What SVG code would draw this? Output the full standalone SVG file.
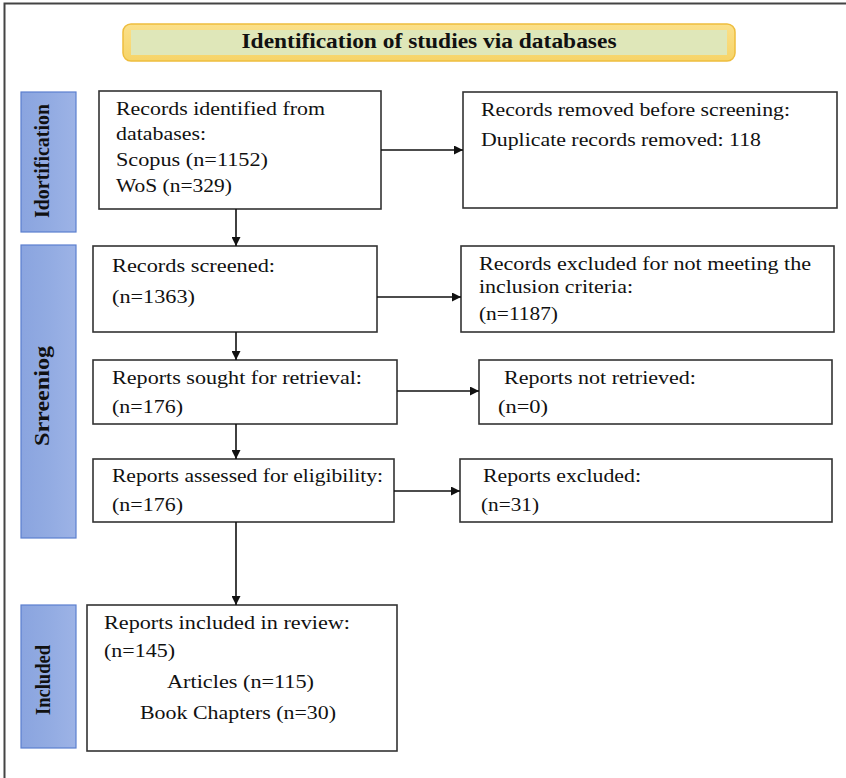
<svg xmlns="http://www.w3.org/2000/svg" width="846" height="778" viewBox="0 0 846 778">
<defs>
<linearGradient id="bar" x1="0" y1="0" x2="1" y2="0">
<stop offset="0" stop-color="#8aa4df"/>
<stop offset="0.5" stop-color="#92abe2"/>
<stop offset="1" stop-color="#9db3e6"/>
</linearGradient>
<linearGradient id="hdr" x1="0" y1="0" x2="0" y2="1">
<stop offset="0" stop-color="#fbe08a"/>
<stop offset="1" stop-color="#f6d468"/>
</linearGradient>
<marker id="arr" viewBox="0 0 10 10" refX="10" refY="5" markerWidth="9" markerHeight="9" markerUnits="userSpaceOnUse" orient="auto">
<path d="M0,0 L10,5 L0,10 z" fill="#111"/>
</marker>
</defs>
<style>
.box{fill:#fff;stroke:#333;stroke-width:1.6}
.side{fill:url(#bar);stroke:#5b7fcf;stroke-width:1.2}
.t{font-family:"Liberation Serif","Times New Roman",serif;font-size:19px;fill:#111}
.r{font-family:"Liberation Serif","Times New Roman",serif;font-size:18px;fill:#111}
.lab{font-family:"Liberation Serif","Times New Roman",serif;font-size:20px;font-weight:bold;fill:#111}
.conn line{stroke:#111;stroke-width:1.6;marker-end:url(#arr)}
</style>
<rect width="846" height="778" fill="#fff"/>
<path d="M4.5,778 V3.5 H846" fill="none" stroke="#444" stroke-width="2"/>

<g id="header">
<rect x="123" y="24" width="612" height="37" rx="8" fill="url(#hdr)" stroke="#eebd3e" stroke-width="1.5"/>
<rect x="131" y="30" width="596" height="25" fill="#dfe7b9"/>
<text x="429" y="48" text-anchor="middle" class="lab" font-size="19" textLength="375" lengthAdjust="spacingAndGlyphs">Identification of studies via databases</text>
</g>

<g id="side-identification">
<rect x="21" y="92" width="55" height="140" class="side"/>
<text transform="translate(49,161) rotate(-90)" text-anchor="middle" class="lab" textLength="114" lengthAdjust="spacingAndGlyphs">Idortification</text>
</g>
<g id="side-screening">
<rect x="21" y="245" width="55" height="293" class="side"/>
<text transform="translate(49,396) rotate(-90)" text-anchor="middle" class="lab" textLength="100" lengthAdjust="spacingAndGlyphs">Srreeniog</text>
</g>
<g id="side-included">
<rect x="21" y="605" width="55" height="143" class="side"/>
<text transform="translate(50,680) rotate(-90)" text-anchor="middle" class="lab" textLength="70" lengthAdjust="spacingAndGlyphs">Included</text>
</g>

<g id="records-identified">
<rect x="99" y="91" width="282" height="118" class="box"/>
<text x="116" y="115" class="t" textLength="209" lengthAdjust="spacingAndGlyphs">Records identified from</text>
<text x="116" y="140" class="t" textLength="90" lengthAdjust="spacingAndGlyphs">databases:</text>
<text x="116" y="166" class="t" textLength="152" lengthAdjust="spacingAndGlyphs">Scopus (n=1152)</text>
<text x="116" y="192" class="t" textLength="116" lengthAdjust="spacingAndGlyphs">WoS (n=329)</text>
</g>

<g id="records-removed">
<rect x="463" y="92" width="374" height="116" class="box"/>
<text x="481" y="116" class="t" textLength="309" lengthAdjust="spacingAndGlyphs">Records removed before screening:</text>
<text x="481" y="146" class="t" textLength="280" lengthAdjust="spacingAndGlyphs">Duplicate records removed: 118</text>
</g>

<g id="records-screened">
<rect x="93" y="246" width="284" height="86" class="box"/>
<text x="112" y="272" class="t" textLength="163" lengthAdjust="spacingAndGlyphs">Records screened:</text>
<text x="112" y="303" class="t" textLength="83" lengthAdjust="spacingAndGlyphs">(n=1363)</text>
</g>

<g id="records-excluded">
<rect x="461" y="246" width="373" height="86" class="box"/>
<text x="479" y="270" class="t" textLength="332" lengthAdjust="spacingAndGlyphs">Records excluded for not meeting the</text>
<text x="479" y="293" class="t" textLength="154" lengthAdjust="spacingAndGlyphs">inclusion criteria:</text>
<text x="479" y="320" class="t" textLength="79" lengthAdjust="spacingAndGlyphs">(n=1187)</text>
</g>

<g id="reports-sought">
<rect x="93" y="360" width="304" height="64" class="box"/>
<text x="112" y="384" class="r" textLength="250" lengthAdjust="spacingAndGlyphs">Reports sought for retrieval:</text>
<text x="112" y="413" class="r" textLength="71" lengthAdjust="spacingAndGlyphs">(n=176)</text>
</g>

<g id="reports-not-retrieved">
<rect x="479" y="360" width="353" height="64" class="box"/>
<text x="504" y="384" class="r" textLength="192" lengthAdjust="spacingAndGlyphs">Reports not retrieved:</text>
<text x="498" y="413" class="r" textLength="50" lengthAdjust="spacingAndGlyphs">(n=0)</text>
</g>

<g id="reports-assessed">
<rect x="93" y="459" width="301" height="63" class="box"/>
<text x="112" y="482" class="r" textLength="271" lengthAdjust="spacingAndGlyphs">Reports assessed for eligibility:</text>
<text x="112" y="511" class="r" textLength="71" lengthAdjust="spacingAndGlyphs">(n=176)</text>
</g>

<g id="reports-excluded">
<rect x="460" y="459" width="372" height="63" class="box"/>
<text x="483" y="482" class="r" textLength="158" lengthAdjust="spacingAndGlyphs">Reports excluded:</text>
<text x="481" y="511" class="r" textLength="58" lengthAdjust="spacingAndGlyphs">(n=31)</text>
</g>

<g id="reports-included">
<rect x="87" y="605" width="310" height="146" class="box"/>
<text x="104" y="629" class="r" textLength="246" lengthAdjust="spacingAndGlyphs">Reports included in review:</text>
<text x="104" y="657" class="r" textLength="71" lengthAdjust="spacingAndGlyphs">(n=145)</text>
<text x="167" y="688" class="r" textLength="147" lengthAdjust="spacingAndGlyphs">Articles (n=115)</text>
<text x="140" y="719" class="r" textLength="196" lengthAdjust="spacingAndGlyphs">Book Chapters (n=30)</text>
</g>

<g id="connectors" class="conn">
<line x1="381" y1="150" x2="463" y2="150"/>
<line x1="236" y1="209" x2="236" y2="246"/>
<line x1="377" y1="297" x2="461" y2="297"/>
<line x1="236" y1="332" x2="236" y2="360"/>
<line x1="397" y1="391" x2="479" y2="391"/>
<line x1="236" y1="424" x2="236" y2="459"/>
<line x1="394" y1="491" x2="460" y2="491"/>
<line x1="236" y1="522" x2="236" y2="605"/>
</g>
</svg>
